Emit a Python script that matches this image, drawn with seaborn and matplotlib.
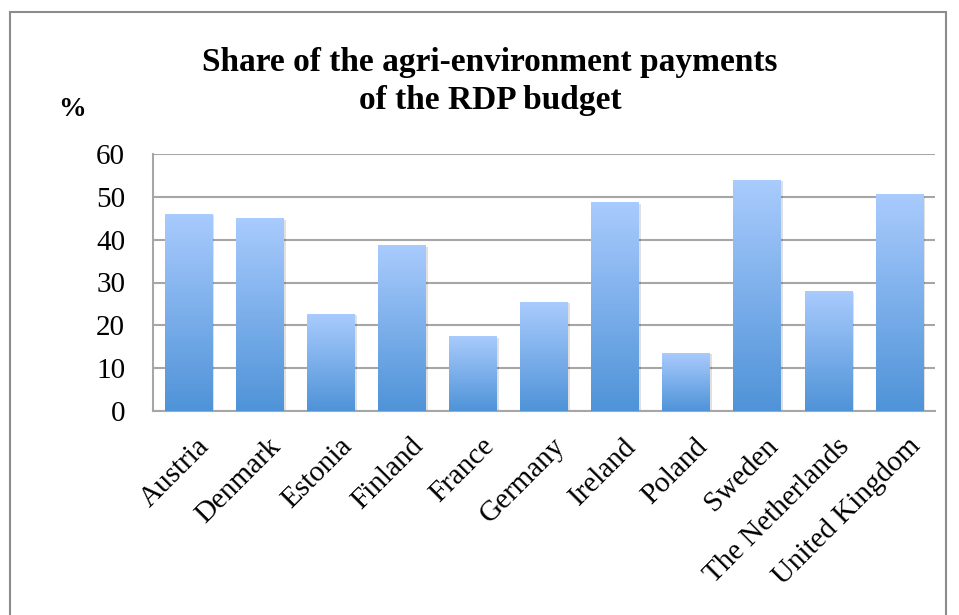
import numpy as np
import pandas as pd
import matplotlib
matplotlib.use("Agg")
import matplotlib.pyplot as plt
import matplotlib.transforms as mtrans
import seaborn as sns
from matplotlib.colors import LinearSegmentedColormap
from matplotlib.patches import Rectangle

# data
countries = ["Austria", "Denmark", "Estonia", "Finland", "France", "Germany",
             "Ireland", "Poland", "Sweden", "The Netherlands", "United Kingdom"]
share = [46.1, 45.0, 22.6, 38.7, 17.4, 25.4, 48.7, 13.5, 53.9, 27.9, 50.6]

df = pd.DataFrame({"country": countries, "share": share})

sns.set_style("white")
plt.rcParams["font.family"] = ["Liberation Serif", "DejaVu Serif"]
plt.rcParams["text.color"] = "black"
plt.rcParams["xtick.labelcolor"] = "black"
plt.rcParams["ytick.labelcolor"] = "black"

fig = plt.figure(figsize=(9.59, 6.15), dpi=100)
ax = fig.add_axes([153 / 959, 1 - 411 / 615, (935 - 153) / 959, (411 - 154) / 615])

sns.barplot(data=df, x="country", y="share", ax=ax, color="#6fa5e6", width=0.67, zorder=3)

# gradient fill, light at top, darker at the base
cmap = LinearSegmentedColormap.from_list("bar", ["#4f93d8", "#a9cbfd"])
grad = np.linspace(0, 1, 256).reshape(-1, 1)
for p in list(ax.patches):
    x0, y0 = p.get_x(), p.get_y()
    w, h = p.get_width(), p.get_height()
    # soft shadow
    shadow = Rectangle((x0 + 0.03, y0), w, h - 0.3, facecolor="#000000", alpha=0.12,
                       edgecolor="none", zorder=2)
    ax.add_patch(shadow)
    p.set_facecolor("none")
    p.set_edgecolor("none")
    im = ax.imshow(grad, extent=[x0, x0 + w, y0, y0 + h], origin="lower", cmap=cmap,
                   aspect="auto", zorder=3)
    im.set_clip_path(p)

ax.set_xlim(-0.5, len(countries) - 0.5)
ax.set_ylim(0, 60)
ax.set_yticks(range(0, 61, 10))
ax.yaxis.grid(True, color="#a6a6a6", linewidth=1.5, zorder=0)
ax.set_axisbelow(True)

for s in ["top", "right"]:
    ax.spines[s].set_visible(False)
for s in ["left", "bottom"]:
    ax.spines[s].set_color("#a6a6a6")
    ax.spines[s].set_linewidth(1.5)

ax.set_xticks(range(len(countries)))
ax.set_xticklabels(countries, rotation=45, ha="right", rotation_mode="anchor")
ax.set_xticks(np.arange(-0.5, len(countries), 1), minor=True)
ax.tick_params(axis="x", which="major", length=0, labelsize=21, pad=16)
ax.tick_params(axis="x", which="minor", length=8, width=1.5, color="#a6a6a6")
ax.tick_params(axis="y", length=8, width=1.5, color="#a6a6a6", labelsize=21, pad=12)
ax.set_xlabel("")
ax.set_ylabel("")
# shift rotated labels a little right, as in the reference
offset = mtrans.ScaledTranslation(8 / 100, 0, fig.dpi_scale_trans)
for lab in ax.get_xticklabels():
    lab.set_transform(lab.get_transform() + offset)

fig.text(490 / 959, 1 - 62 / 615, "Share of the agri-environment payments",
         ha="center", va="center", fontsize=24, fontweight="bold")
fig.text(490 / 959, 1 - 100 / 615, "of the RDP budget",
         ha="center", va="center", fontsize=24, fontweight="bold")
fig.text(72 / 959, 1 - 110 / 615, "%", ha="center", va="center", fontsize=20, fontweight="bold")

# outer chart border
fig.add_artist(Rectangle((10 / 959, -0.05), (946 - 10) / 959, 1.05 - 12 / 615,
                         transform=fig.transFigure, fill=False, edgecolor="#8c8c8c",
                         linewidth=1.5))

fig.savefig("out.png", dpi=100)
